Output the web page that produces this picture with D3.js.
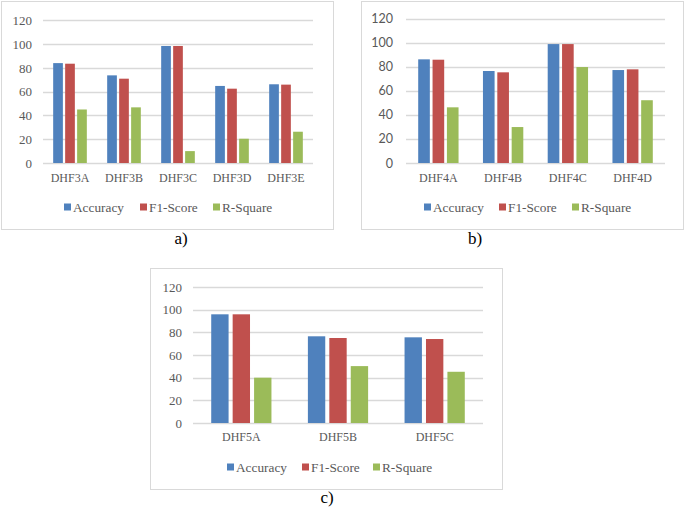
<!DOCTYPE html>
<html>
<head>
<meta charset="utf-8">
<script src="https://cdn.jsdelivr.net/npm/d3@7"></script>
<style>
  body { margin: 0; background: #fff; }
  svg { display: block; }
  .serif { font-family: "Liberation Serif", "DejaVu Serif", serif; }
  .sans { font-family: Lato, "Open Sans", sans-serif; }
</style>
</head>
<body>
<div id="chart"></div>
<script>
// Data
const series = ["Accuracy", "F1-Score", "R-Square"];
const colors = ["#4F81BD", "#C0504D", "#9BBB59"];
const yTicks = [0, 20, 40, 60, 80, 100, 120];

const catsA = ["DHF3A", "DHF3B", "DHF3C", "DHF3D", "DHF3E"];
const accA = [84, 73.7, 98.4, 64.8, 66.2];
const f1A = [83.5, 70.9, 98.4, 62.5, 65.9];
const r2A = [45, 46.8, 10, 20.4, 26.3];

const catsB = ["DHF4A", "DHF4B", "DHF4C", "DHF4D"];
const accB = [86.2, 76.5, 98.9, 77.3];
const f1B = [85.9, 75.4, 98.9, 77.9];
const r2B = [46.3, 29.9, 79.8, 52.2];

const catsC = ["DHF5A", "DHF5B", "DHF5C"];
const accC = [95.9, 76.5, 75.6];
const f1C = [95.9, 75, 74.1];
const r2C = [40, 50.2, 45.2];

const textColor = "#595959";
const gridColor = "#D9D9D9";

const svg = d3.select("#chart")
  .append("svg")
  .attr("width", 685)
  .attr("height", 510);

function drawPanel(opts) {
  const { cats, values, frame, plot, tickClass, tickSize, tickEnd, catY, legendY, legendX, caption } = opts;

  // frame
  svg.append("rect")
    .attr("x", frame.x + 0.5)
    .attr("y", frame.y + 0.5)
    .attr("width", frame.w)
    .attr("height", frame.h)
    .attr("fill", "#fff")
    .attr("stroke", gridColor)
    .attr("stroke-width", 1);

  const x0 = d3.scaleBand()
    .domain(cats)
    .range([plot.left, plot.right]);
  const x1 = d3.scaleBand()
    .domain(series)
    .range([0, x0.bandwidth()])
    .paddingInner(0.19)
    .paddingOuter(0.85);
  const y = d3.scaleLinear()
    .domain([0, 120])
    .range([plot.bottom, plot.top]);

  // gridlines
  svg.append("g")
    .selectAll("line")
    .data(yTicks)
    .join("line")
    .attr("x1", plot.left)
    .attr("x2", plot.right)
    .attr("y1", (d) => Math.round(y(d)) + 0.5)
    .attr("y2", (d) => Math.round(y(d)) + 0.5)
    .attr("stroke", gridColor)
    .attr("stroke-width", 1.3);

  // y tick labels
  svg.append("g")
    .selectAll("text")
    .data(yTicks)
    .join("text")
    .attr("class", tickClass)
    .attr("x", tickEnd)
    .attr("y", (d) => y(d))
    .attr("dy", "0.36em")
    .attr("text-anchor", "end")
    .attr("font-size", tickSize)
    .attr("fill", textColor)
    .text((d) => d);

  // bars
  const groups = svg.append("g")
    .selectAll("g")
    .data(cats)
    .join("g")
    .attr("transform", (d) => `translate(${x0(d)},0)`);

  groups.selectAll("rect")
    .data((d, i) => series.map((s, j) => ({ s, v: values[j][i], j })))
    .join("rect")
    .attr("x", (d) => x1(d.s))
    .attr("y", (d) => y(d.v))
    .attr("width", x1.bandwidth())
    .attr("height", (d) => y(0) - y(d.v))
    .attr("fill", (d) => colors[d.j]);

  // category labels
  svg.append("g")
    .selectAll("text")
    .data(cats)
    .join("text")
    .attr("class", "serif")
    .attr("x", (d) => x0(d) + x0.bandwidth() / 2)
    .attr("y", catY)
    .attr("text-anchor", "middle")
    .attr("font-size", 12)
    .attr("fill", textColor)
    .text((d) => d);

  // legend
  const legend = svg.append("g")
    .selectAll("g")
    .data(series)
    .join("g")
    .attr("transform", (d, i) => `translate(${legendX[i]},${legendY})`);
  legend.append("rect")
    .attr("x", 0)
    .attr("y", -3.5)
    .attr("width", 7)
    .attr("height", 7)
    .attr("fill", (d, i) => colors[i]);
  legend.append("text")
    .attr("class", "serif")
    .attr("x", 9)
    .attr("y", 0)
    .attr("dy", "0.35em")
    .attr("font-size", 13.3)
    .attr("fill", textColor)
    .text((d) => d);

  // caption
  svg.append("text")
    .attr("class", "serif")
    .attr("x", caption.x)
    .attr("y", caption.y)
    .attr("text-anchor", "middle")
    .attr("font-size", 17)
    .attr("fill", "#000")
    .text(caption.text);
}

drawPanel({
  cats: catsA,
  values: [accA, f1A, r2A],
  frame: { x: 1, y: 1, w: 332, h: 228 },
  plot: { left: 43, right: 313, top: 20.3, bottom: 163 },
  tickClass: "serif",
  tickSize: 13,
  tickEnd: 32,
  catY: 182,
  legendY: 207,
  legendX: [64, 140, 213],
  caption: { x: 181, y: 244, text: "a)" },
});

drawPanel({
  cats: catsB,
  values: [accB, f1B, r2B],
  frame: { x: 361, y: 1, w: 322, h: 228 },
  plot: { left: 406, right: 665, top: 18.7, bottom: 163 },
  tickClass: "sans",
  tickSize: 12.5,
  tickEnd: 393,
  catY: 182,
  legendY: 207,
  legendX: [424, 499, 572],
  caption: { x: 475, y: 244, text: "b)" },
});

drawPanel({
  cats: catsC,
  values: [accC, f1C, r2C],
  frame: { x: 150, y: 268, w: 352, h: 221 },
  plot: { left: 193, right: 483, top: 287, bottom: 423 },
  tickClass: "serif",
  tickSize: 13,
  tickEnd: 182,
  catY: 441,
  legendY: 467,
  legendX: [227, 302, 373],
  caption: { x: 327, y: 503, text: "c)" },
});
</script>
</body>
</html>
